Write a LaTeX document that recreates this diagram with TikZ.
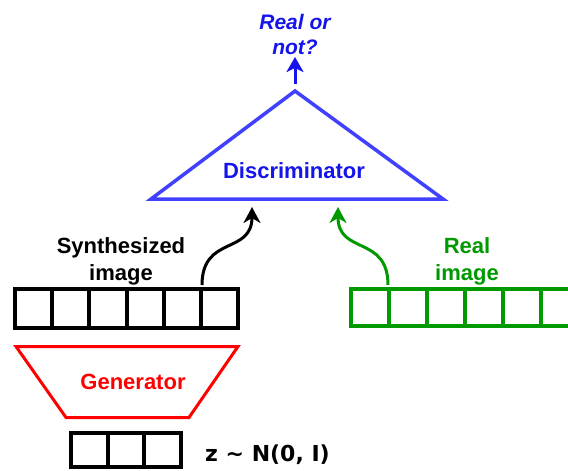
\documentclass[tikz,border=0pt]{standalone}
\usepackage{fontspec}
\setmainfont{Liberation Sans}
\newfontfamily\dvfont{DejaVu Sans}
\usetikzlibrary{arrows.meta}
\definecolor{triblue}{RGB}{64,64,255}
\definecolor{txtblue}{RGB}{20,20,235}
\definecolor{ggreen}{RGB}{0,153,0}
\definecolor{gred}{RGB}{255,0,0}
\begin{document}
\begin{tikzpicture}[x=1pt,y=-1pt,
  cell/.style={draw, line width=4pt, inner sep=0pt, outer sep=0pt, anchor=north west},
  lbl/.style={font=\fontsize{22}{27}\selectfont\bfseries, align=center, inner sep=0pt},
  arr/.style={line width=3pt, -{Stealth[length=16pt,width=17pt,inset=5pt]}}]
\useasboundingbox (0,0) rectangle (568,471);
\clip (0,0) rectangle (568,471);

% Discriminator triangle
\coordinate (apex) at (295,91);
\coordinate (bl) at (151,199);
\coordinate (br) at (443,199);
\draw[triblue, line width=3.5pt, line join=miter] (apex) -- (br) -- (bl) -- cycle;
\node[lbl, text=txtblue] (disc) at (294,171) {Discriminator};

% output
\coordinate (out) at (295,57);
\draw[arr, txtblue, -{Stealth[length=15pt,width=17pt,inset=4pt]}] ([yshift=7pt]apex) -- (out);
\node[lbl, text=txtblue, font=\fontsize{21}{25}\selectfont\bfseries\itshape] (q) at (295,34) {Real or\\not?};

% synthesized image
\foreach \i in {1,...,6}
  \node[cell, minimum width=37.17pt, minimum height=39pt] (s\i) at ({15+(\i-1)*37.17},289) {};
\node[lbl] (slbl) at (121,261) {Synthesized\\image};

% real image
\foreach \i in {1,...,6}
  \node[cell, ggreen, minimum width=37.9pt, minimum height=37pt] (r\i) at ({351+(\i-1)*37.9},289) {};
\node[lbl, text=ggreen] (rlbl) at (467,261) {Real\\image};

% arrows into discriminator
\coordinate (din1) at (252,207);
\coordinate (din2) at (338,207);
\coordinate (sout) at (202,285);
\coordinate (rout) at (388,285);
\draw[arr, black] (sout) .. controls (202,235) and (252,255) .. (din1);
\draw[arr, ggreen] (rout) .. controls (388,235) and (338,255) .. (din2);

% generator
\coordinate (g1) at (16,346.5);
\coordinate (g2) at (238,346.5);
\coordinate (g3) at (189,417.5);
\coordinate (g4) at (66,417.5);
\draw[gred, line width=3pt, line join=miter] (g1) -- (g2) -- (g3) -- (g4) -- cycle;
\node[lbl, text=gred] (gen) at (133,382) {Generator};

% noise
\foreach \i in {1,...,3}
  \node[cell, minimum width=36.67pt, minimum height=34pt] (n\i) at ({71+(\i-1)*36.67},433) {};
\node[lbl, font=\fontsize{22}{27}\selectfont\bfseries\dvfont, anchor=base west] (z) at (205,461) {z \char"7E{} N(0, I)};
\end{tikzpicture}
\end{document}
